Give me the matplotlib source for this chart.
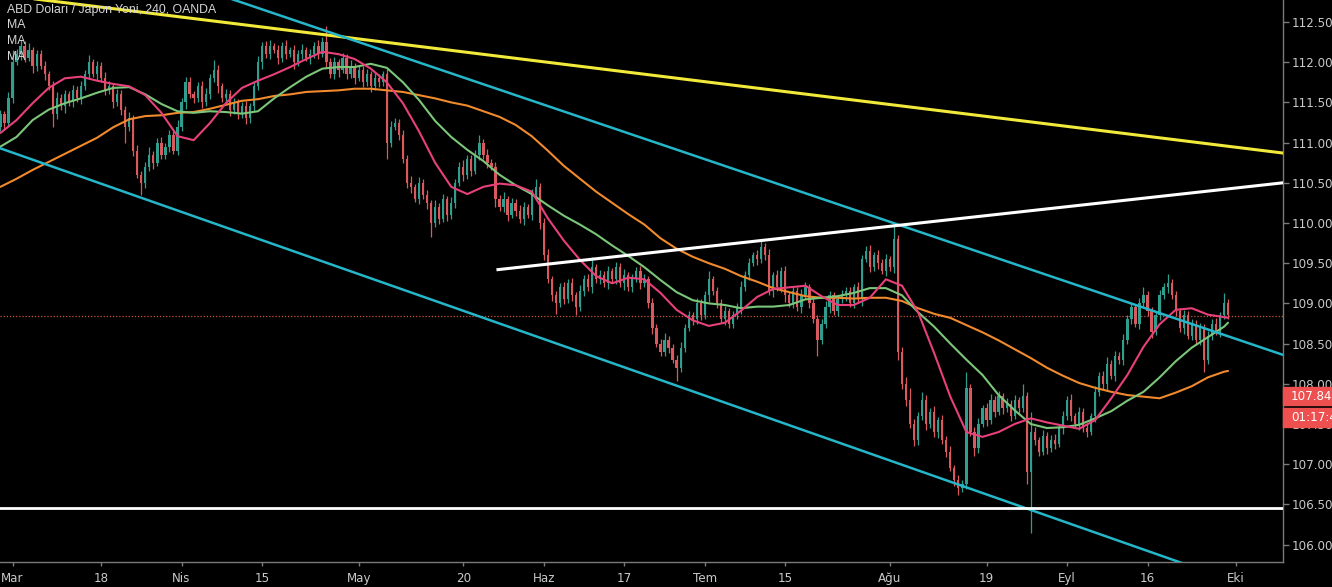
import numpy as np
import matplotlib
matplotlib.use("Agg")
import matplotlib.pyplot as plt
from matplotlib.patches import Rectangle

# ---------------- text ----------------
title_text = "ABD Doları / Japon Yeni, 240, OANDA"
legend_labels = ["MA", "MA", "MA"]
last_price_text = "107.84"
timer_text = "01:17:4"

# ---------------- time axis ----------------
start_date = "2019-03-01"
tick_dates = ["2019-03-01", "2019-03-18", "2019-04-01", "2019-04-15", "2019-05-01",
              "2019-05-20", "2019-06-03", "2019-06-17", "2019-07-01", "2019-07-15",
              "2019-08-01", "2019-08-19", "2019-09-02", "2019-09-16", "2019-10-01"]
tick_labels = ["Mar", "18", "Nis", "15", "May", "20", "Haz", "17", "Tem", "15",
               "Ağu", "19", "Eyl", "16", "Eki"]
first_bar_day = -1.5      # first half-day bar, in trading days from start_date
bar_step_days = 0.5

# ---------------- candles (half-day bars) ----------------
first_open = 111.20
closes = [
    111.35, 111.25, 111.55, 112.00, 112.10, 112.20, 112.05, 112.15, 111.95, 112.10,
    111.95, 111.85, 111.70, 111.35, 111.55, 111.45, 111.60, 111.50, 111.65, 111.55,
    111.70, 111.85, 112.00, 111.85, 111.95, 111.80, 111.65, 111.70, 111.50, 111.60,
    111.40, 111.20, 111.30, 110.90, 110.60, 110.50, 110.70, 110.85, 110.75, 111.00,
    110.85, 110.95, 111.10, 110.90, 111.20, 111.50, 111.75, 111.60, 111.55, 111.70,
    111.50, 111.60, 111.80, 111.90, 111.70, 111.55, 111.60, 111.40, 111.50, 111.35,
    111.45, 111.30, 111.45, 111.70, 112.00, 112.20, 112.10, 112.20, 112.15, 112.05,
    112.20, 112.10, 112.15, 112.00, 112.10, 112.15, 112.05, 112.10, 112.20, 112.10,
    112.25, 112.00, 111.85, 112.00, 111.90, 112.05, 111.85, 111.95, 111.80, 111.90,
    111.75, 111.85, 111.70, 111.80, 111.75, 111.85, 111.00, 111.20, 111.25, 111.10,
    110.80, 110.50, 110.45, 110.30, 110.50, 110.35, 110.25, 110.00, 110.20, 110.05,
    110.30, 110.10, 110.25, 110.50, 110.70, 110.60, 110.80, 110.65, 110.85, 111.00,
    110.85, 110.75, 110.70, 110.30, 110.20, 110.30, 110.10, 110.25, 110.15, 110.05,
    110.20, 110.10, 110.35, 110.45, 110.00, 109.60, 109.30, 109.10, 109.00, 109.20,
    109.05, 109.25, 109.10, 108.95, 109.15, 109.30, 109.20, 109.45, 109.30, 109.35,
    109.25, 109.40, 109.30, 109.45, 109.25, 109.35, 109.20, 109.30, 109.40, 109.25,
    109.30, 109.00, 108.70, 108.50, 108.40, 108.55, 108.45, 108.30, 108.20, 108.45,
    108.70, 108.85, 108.80, 109.00, 108.85, 109.10, 109.30, 109.15, 109.00, 108.80,
    108.90, 108.75, 108.85, 108.95, 109.20, 109.35, 109.50, 109.60, 109.55, 109.70,
    109.60, 109.15, 109.35, 109.20, 109.40, 109.10, 109.00, 109.15, 108.95, 109.10,
    109.20, 109.00, 108.80, 108.55, 108.75, 108.95, 109.10, 108.90, 109.05, 109.10,
    109.15, 109.00, 109.20, 109.05, 109.55, 109.65, 109.45, 109.60, 109.50, 109.40,
    109.55, 109.45, 109.80, 108.40, 108.00, 107.80, 107.50, 107.30, 107.60, 107.80,
    107.50, 107.65, 107.40, 107.55, 107.30, 107.15, 106.95, 106.80, 106.70, 106.75,
    107.95, 107.40, 107.20, 107.50, 107.70, 107.55, 107.80, 107.65, 107.85, 107.70,
    107.75, 107.60, 107.80, 107.70, 107.85, 106.90, 107.40, 107.30, 107.15, 107.35,
    107.20, 107.30, 107.25, 107.45, 107.60, 107.80, 107.60, 107.50, 107.65, 107.45,
    107.40, 107.60, 107.90, 108.10, 108.00, 108.25, 108.10, 108.35, 108.30, 108.55,
    108.80, 108.95, 108.75, 109.00, 109.10, 108.90, 108.65, 108.85, 109.10, 109.20,
    109.25, 109.10, 108.90, 108.70, 108.85, 108.60, 108.75, 108.55, 108.70, 108.30,
    108.60, 108.75, 108.65, 108.85, 109.00, 108.85,
]
upper_wicks = [
    0.06, 0.04, 0.08, 0.15, 0.07, 0.08, 0.06, 0.09, 0.04, 0.05,
    0.05, 0.07, 0.04, 0.06, 0.08, 0.05, 0.06, 0.04, 0.07, 0.05,
    0.06, 0.05, 0.09, 0.04, 0.07, 0.05, 0.08, 0.06, 0.04, 0.07,
    0.05, 0.06, 0.08, 0.04, 0.07, 0.05, 0.06, 0.09, 0.04, 0.06,
    0.07, 0.05, 0.06, 0.04, 0.08, 0.05, 0.07, 0.06, 0.04, 0.05,
    0.06, 0.08, 0.05, 0.13, 0.06, 0.04, 0.07, 0.05, 0.06, 0.04,
    0.05, 0.07, 0.04, 0.06, 0.08, 0.05, 0.06, 0.07, 0.04, 0.06,
    0.05, 0.07, 0.04, 0.06, 0.05, 0.08, 0.04, 0.06, 0.05, 0.07,
    0.06, 0.20, 0.05, 0.07, 0.04, 0.06, 0.05, 0.08, 0.04, 0.06,
    0.05, 0.07, 0.04, 0.06, 0.05, 0.04, 0.06, 0.07, 0.05, 0.04,
    0.06, 0.05, 0.08, 0.04, 0.07, 0.05, 0.06, 0.04, 0.08, 0.05,
    0.06, 0.04, 0.07, 0.05, 0.06, 0.08, 0.05, 0.04, 0.06, 0.09,
    0.05, 0.07, 0.04, 0.06, 0.05, 0.08, 0.04, 0.06, 0.05, 0.07,
    0.06, 0.04, 0.07, 0.10, 0.05, 0.06, 0.08, 0.04, 0.06, 0.05,
    0.07, 0.05, 0.06, 0.04, 0.08, 0.05, 0.06, 0.13, 0.04, 0.06,
    0.05, 0.07, 0.04, 0.06, 0.05, 0.08, 0.04, 0.06, 0.05, 0.07,
    0.06, 0.04, 0.07, 0.05, 0.06, 0.08, 0.05, 0.04, 0.06, 0.07,
    0.05, 0.06, 0.04, 0.07, 0.05, 0.06, 0.10, 0.04, 0.06, 0.05,
    0.07, 0.04, 0.06, 0.05, 0.08, 0.05, 0.06, 0.04, 0.06, 0.07,
    0.05, 0.08, 0.04, 0.06, 0.05, 0.07, 0.04, 0.06, 0.05, 0.08,
    0.06, 0.04, 0.07, 0.05, 0.06, 0.08, 0.05, 0.04, 0.06, 0.07,
    0.05, 0.06, 0.04, 0.07, 0.05, 0.06, 0.08, 0.04, 0.06, 0.05,
    0.07, 0.04, 0.20, 0.05, 0.06, 0.08, 0.15, 0.06, 0.05, 0.10,
    0.06, 0.05, 0.07, 0.04, 0.06, 0.05, 0.08, 0.04, 0.06, 0.05,
    0.20, 0.05, 0.06, 0.08, 0.04, 0.06, 0.07, 0.05, 0.06, 0.04,
    0.07, 0.05, 0.06, 0.04, 0.15, 0.05, 0.25, 0.06, 0.04, 0.07,
    0.05, 0.06, 0.08, 0.04, 0.06, 0.05, 0.07, 0.04, 0.06, 0.05,
    0.06, 0.04, 0.07, 0.05, 0.06, 0.08, 0.04, 0.06, 0.05, 0.07,
    0.05, 0.06, 0.04, 0.07, 0.10, 0.05, 0.06, 0.04, 0.07, 0.05,
    0.11, 0.05, 0.06, 0.04, 0.07, 0.05, 0.06, 0.04, 0.06, 0.05,
    0.06, 0.05, 0.07, 0.04, 0.13, 0.05,
]
lower_wicks = [
    0.05, 0.08, 0.04, 0.06, 0.03, 0.07, 0.05, 0.04, 0.09, 0.06,
    0.04, 0.07, 0.05, 0.15, 0.06, 0.04, 0.08, 0.05, 0.06, 0.04,
    0.07, 0.05, 0.06, 0.04, 0.08, 0.05, 0.06, 0.04, 0.07, 0.05,
    0.06, 0.20, 0.05, 0.07, 0.04, 0.15, 0.06, 0.05, 0.08, 0.04,
    0.06, 0.05, 0.07, 0.04, 0.06, 0.05, 0.08, 0.04, 0.06, 0.05,
    0.07, 0.04, 0.06, 0.05, 0.08, 0.04, 0.06, 0.07, 0.05, 0.06,
    0.04, 0.07, 0.05, 0.06, 0.04, 0.08, 0.05, 0.06, 0.04, 0.07,
    0.05, 0.06, 0.04, 0.08, 0.05, 0.06, 0.04, 0.07, 0.05, 0.06,
    0.04, 0.07, 0.05, 0.06, 0.08, 0.04, 0.06, 0.05, 0.07, 0.04,
    0.06, 0.05, 0.07, 0.04, 0.06, 0.05, 0.20, 0.06, 0.04, 0.07,
    0.05, 0.06, 0.08, 0.04, 0.06, 0.05, 0.07, 0.18, 0.05, 0.06,
    0.04, 0.07, 0.05, 0.06, 0.04, 0.08, 0.05, 0.06, 0.04, 0.07,
    0.05, 0.06, 0.04, 0.10, 0.05, 0.06, 0.08, 0.04, 0.06, 0.05,
    0.07, 0.04, 0.06, 0.05, 0.08, 0.06, 0.05, 0.07, 0.13, 0.05,
    0.06, 0.04, 0.07, 0.10, 0.05, 0.06, 0.04, 0.07, 0.05, 0.06,
    0.04, 0.07, 0.05, 0.06, 0.04, 0.08, 0.05, 0.06, 0.04, 0.07,
    0.05, 0.06, 0.08, 0.04, 0.06, 0.05, 0.07, 0.04, 0.17, 0.05,
    0.06, 0.04, 0.07, 0.05, 0.06, 0.04, 0.08, 0.05, 0.06, 0.04,
    0.07, 0.05, 0.06, 0.04, 0.08, 0.05, 0.06, 0.04, 0.07, 0.05,
    0.06, 0.04, 0.07, 0.05, 0.06, 0.08, 0.04, 0.06, 0.05, 0.07,
    0.05, 0.06, 0.04, 0.20, 0.06, 0.05, 0.07, 0.04, 0.06, 0.05,
    0.07, 0.04, 0.06, 0.05, 0.08, 0.04, 0.06, 0.05, 0.07, 0.04,
    0.06, 0.05, 0.07, 0.10, 0.06, 0.08, 0.05, 0.07, 0.06, 0.05,
    0.08, 0.05, 0.06, 0.07, 0.05, 0.06, 0.04, 0.07, 0.08, 0.05,
    0.06, 0.05, 0.10, 0.06, 0.04, 0.07, 0.05, 0.06, 0.04, 0.07,
    0.05, 0.06, 0.04, 0.07, 0.05, 0.15, 0.75, 0.06, 0.05, 0.04,
    0.07, 0.05, 0.06, 0.04, 0.08, 0.05, 0.06, 0.04, 0.07, 0.05,
    0.06, 0.04, 0.07, 0.05, 0.06, 0.08, 0.04, 0.06, 0.05, 0.07,
    0.05, 0.06, 0.04, 0.07, 0.05, 0.06, 0.08, 0.04, 0.06, 0.05,
    0.07, 0.04, 0.06, 0.05, 0.08, 0.04, 0.06, 0.05, 0.07, 0.15,
    0.05, 0.06, 0.04, 0.07, 0.05, 0.04,
]

# ---------------- moving averages (every 4th bar + last bar) ----------------
ma_sample_every = 4
ma_fast = [
    111.12, 111.28, 111.49, 111.68, 111.80, 111.82, 111.77, 111.73, 111.70, 111.59,
    111.37, 111.08, 111.03, 111.24, 111.49, 111.68, 111.77, 111.85, 111.94, 112.04,
    112.13, 112.10, 112.04, 111.92, 111.75, 111.49, 111.14, 110.75, 110.45, 110.36,
    110.45, 110.49, 110.47, 110.39, 110.06, 109.78, 109.54, 109.34, 109.25, 109.32,
    109.30, 109.13, 108.92, 108.79, 108.72, 108.76, 108.91, 109.08, 109.18, 109.20,
    109.22, 109.09, 108.98, 108.98, 109.07, 109.30, 109.22, 108.89, 108.38, 107.84,
    107.40, 107.34, 107.40, 107.50, 107.57, 107.52, 107.48, 107.44, 107.55, 107.82,
    108.11, 108.46, 108.74, 108.92, 108.94, 108.86, 108.83, 108.82,
]
ma_mid = [
    110.95, 111.07, 111.28, 111.41, 111.49, 111.55, 111.62, 111.68, 111.69, 111.60,
    111.48, 111.39, 111.37, 111.39, 111.38, 111.36, 111.39, 111.55, 111.69, 111.82,
    111.92, 111.94, 111.94, 111.98, 111.93, 111.75, 111.53, 111.27, 111.07, 110.91,
    110.77, 110.60, 110.47, 110.36, 110.22, 110.09, 109.98, 109.86, 109.72, 109.59,
    109.45, 109.29, 109.14, 109.04, 109.00, 108.98, 108.94, 108.96, 108.96, 108.98,
    109.05, 109.07, 109.09, 109.13, 109.19, 109.19, 109.10, 108.89, 108.71, 108.50,
    108.30, 108.11, 107.86, 107.67, 107.50, 107.45, 107.46, 107.49, 107.57, 107.66,
    107.79, 107.90, 108.08, 108.28, 108.45, 108.58, 108.71, 108.76,
]
ma_slow = [
    110.45, 110.55, 110.66, 110.76, 110.86, 110.96, 111.06, 111.19, 111.29, 111.33,
    111.34, 111.37, 111.38, 111.42, 111.47, 111.52, 111.54, 111.58, 111.60, 111.63,
    111.64, 111.65, 111.67, 111.67, 111.65, 111.63, 111.59, 111.55, 111.50, 111.46,
    111.39, 111.32, 111.22, 111.08, 110.90, 110.71, 110.55, 110.39, 110.25, 110.11,
    109.98, 109.81, 109.68, 109.58, 109.50, 109.43, 109.34, 109.27, 109.19, 109.14,
    109.09, 109.07, 109.07, 109.06, 109.07, 109.07, 109.03, 108.94, 108.87, 108.82,
    108.73, 108.64, 108.54, 108.43, 108.32, 108.20, 108.10, 108.01, 107.95, 107.90,
    107.86, 107.84, 107.82, 107.89, 107.97, 108.08, 108.15, 108.16,
]

# ---------------- drawn lines (trading day, price) ----------------
yellow_line_days, yellow_line_prices = [-1.55, 157.83], [112.84, 110.87]
channel_upper_days, channel_upper_prices = [20.0, 157.83], [113.03, 108.36]
channel_lower_days, channel_lower_prices = [-1.55, 157.83], [110.93, 105.33]
white_line_days, white_line_prices = [60.31, 157.83], [109.42, 110.50]
support_price = 106.45
current_price_line = 108.84

y_ticks = [106.0, 106.5, 107.0, 107.5, 108.0, 108.5, 109.0, 109.5,
           110.0, 110.5, 111.0, 111.5, 112.0, 112.5]

# ======================================================================
plt.rcParams['font.family'] = ['DejaVu Sans']
W, H = 1332, 587
fig = plt.figure(figsize=(W / 100, H / 100), dpi=100, facecolor='black')
ax = fig.add_axes([0, 25 / H, 1283 / W, 1 - 25 / H])
ax.set_facecolor('black')

closes_a = np.array(closes)
opens_a = np.r_[first_open, closes_a[:-1]]
highs = np.maximum(opens_a, closes_a) + np.array(upper_wicks)
lows = np.minimum(opens_a, closes_a) - np.array(lower_wicks)
bar_x = first_bar_day + bar_step_days * np.arange(len(closes_a))
up = closes_a >= opens_a
up_col, dn_col = '#2f9e8f', '#d9595e'
cols = np.where(up, up_col, dn_col)

ax.vlines(bar_x, lows, highs, colors=cols, linewidth=0.9, zorder=2)
body_bottom = np.minimum(opens_a, closes_a)
body_h = np.maximum(np.abs(closes_a - opens_a), 0.012)
ax.bar(bar_x, body_h, bottom=body_bottom, width=0.28, color=cols,
       linewidth=0, zorder=2)

ma_x = np.r_[bar_x[::ma_sample_every], bar_x[-1]]
ax.plot(ma_x, ma_slow, color='#f08a2c', lw=1.5, zorder=3, solid_capstyle='round')
ax.plot(ma_x, ma_mid, color='#7cc67a', lw=1.5, zorder=3, solid_capstyle='round')
ax.plot(ma_x, ma_fast, color='#e8407a', lw=1.5, zorder=3, solid_capstyle='round')

ax.plot(yellow_line_days, yellow_line_prices, color='#f2ea3a', lw=2.2, zorder=4)
ax.plot(channel_upper_days, channel_upper_prices, color='#25b6c9', lw=1.8, zorder=4)
ax.plot(channel_lower_days, channel_lower_prices, color='#25b6c9', lw=1.8, zorder=4)
ax.plot(white_line_days, white_line_prices, color='white', lw=2.2, zorder=4)
ax.axhline(support_price, color='white', lw=2.0, zorder=4)
ax.axhline(current_price_line, color='#c8553d', lw=0.9, ls=(0, (1, 1.5)), zorder=1)

ax.set_xlim(-1.553, 157.83)
ax.set_ylim(112.5 - (562 - 22) / 80.4, 112.5 + 22 / 80.4)

# axes styling
for s in ['top', 'left']:
    ax.spines[s].set_visible(False)
ax.spines['right'].set_color('#7a7a7a')
ax.spines['bottom'].set_color('#7a7a7a')
ax.spines['right'].set_linewidth(1.0)
ax.spines['bottom'].set_linewidth(1.0)

ax.yaxis.tick_right()
ax.set_yticks(y_ticks)
ax.set_yticklabels([f"{v:.2f}" for v in y_ticks])
ax.tick_params(axis='y', colors='#7a7a7a', labelcolor='#c9c9c9', length=4,
               width=1, pad=2, labelsize=8.6)

tick_pos = np.busday_count(start_date, tick_dates)
ax.set_xticks(tick_pos)
ax.set_xticklabels(tick_labels)
ax.tick_params(axis='x', colors='#7a7a7a', labelcolor='#c9c9c9', length=3,
               width=1, pad=4, labelsize=8.6)

# legend texts
fig.text(7 / W, 1 - 10 / H, title_text, color='#d6d6d6', fontsize=8.8,
         family='Liberation Sans', va='center', ha='left')
for i, lab in enumerate(legend_labels):
    fig.text(7 / W, 1 - (25 + 16 * i) / H, lab, color='#d6d6d6', fontsize=8.8,
             family='Liberation Sans', va='center', ha='left')

# price label boxes on the axis
box_col = '#ee4f4f'
fig.add_artist(Rectangle((1283 / W, 1 - 405 / H), 60 / W, 18 / H,
                         transform=fig.transFigure, color=box_col, zorder=10))
fig.text(1291 / W, 1 - 396 / H, last_price_text, color='white', fontsize=8.6,
         va='center', ha='left', zorder=11)
fig.add_artist(Rectangle((1283 / W, 1 - 427 / H), 60 / W, 19 / H,
                         transform=fig.transFigure, color=box_col, zorder=10))
fig.text(1291 / W, 1 - 417.5 / H, timer_text, color='white', fontsize=8.6,
         va='center', ha='left', zorder=11)

fig.savefig('out.png', dpi=100, facecolor='black')
